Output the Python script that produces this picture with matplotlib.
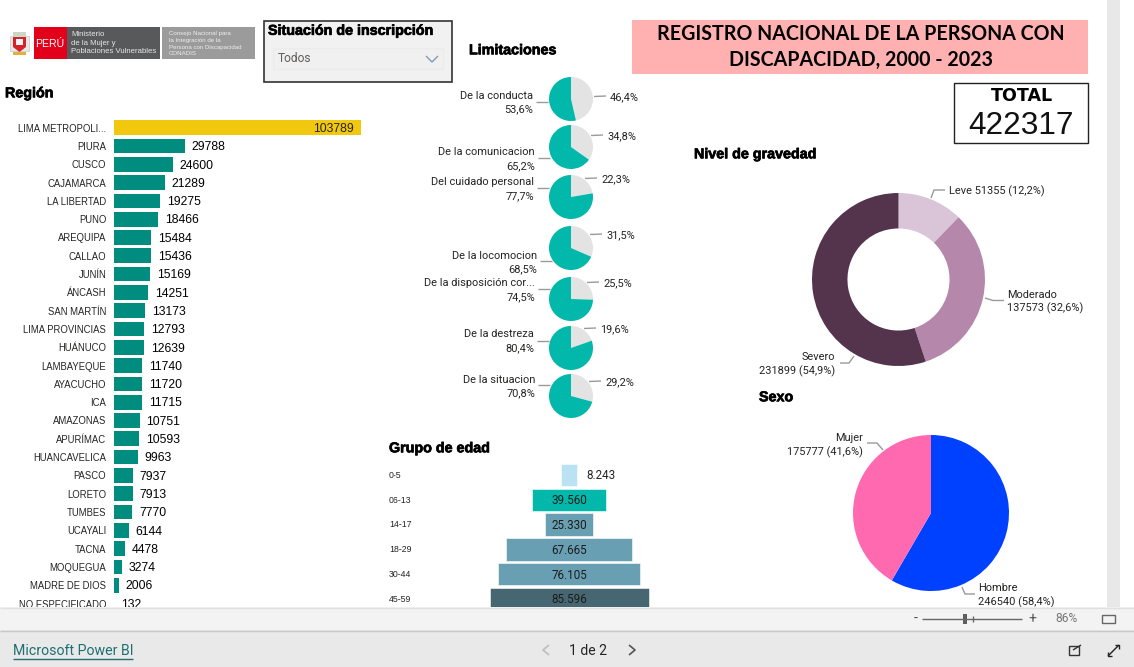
import matplotlib
matplotlib.use("Agg")
import matplotlib.pyplot as plt
import matplotlib.patheffects as pe
from matplotlib.patches import Rectangle, Polygon

W, H = 1134, 667
SANS = "Liberation Sans"
DIN = "Roboto"

regions = ["LIMA METROPOLI...", "PIURA", "CUSCO", "CAJAMARCA", "LA LIBERTAD", "PUNO", "AREQUIPA", "CALLAO",
           "JUNÍN", "ÁNCASH", "SAN MARTÍN", "LIMA PROVINCIAS", "HUÁNUCO", "LAMBAYEQUE", "AYACUCHO", "ICA",
           "AMAZONAS", "APURÍMAC", "HUANCAVELICA", "PASCO", "LORETO", "TUMBES", "UCAYALI", "TACNA",
           "MOQUEGUA", "MADRE DE DIOS", "NO ESPECIFICADO"]
region_values = [103789, 29788, 24600, 21289, 19275, 18466, 15484, 15436, 15169, 14251, 13173, 12793, 12639,
                 11740, 11720, 11715, 10751, 10593, 9963, 7937, 7913, 7770, 6144, 4478, 3274, 2006, 132]

limit_names = ["De la conducta", "De la comunicacion", "Del cuidado personal", "De la locomocion",
               "De la disposición cor...", "De la destreza", "De la situacion"]
limit_no = [46.4, 34.8, 22.3, 31.5, 25.5, 19.6, 29.2]
limit_si = [53.6, 65.2, 77.7, 68.5, 74.5, 80.4, 70.8]

age_groups = ["0-5", "06-13", "14-17", "18-29", "30-44", "45-59"]
age_values = [8243, 39560, 25330, 67665, 76105, 85596]
age_colors = ["#B9E3F2", "#01B8AA", "#689FB2", "#689FB2", "#689FB2", "#466672"]

severity_names = ["Leve", "Moderado", "Severo"]
severity_values = [51355, 137573, 231899]
severity_pct = [12.2, 32.6, 54.9]
severity_colors = ["#DAC4D8", "#B587AB", "#54344C"]

sex_names = ["Hombre", "Mujer"]
sex_values = [246540, 175777]
sex_pct = [58.4, 41.6]
sex_colors = ["#0040FF", "#FF69B0"]

total = 422317


def px_axes(x0, y0, x1, y1, **kw):
    return fig.add_axes([x0 / W, 1 - y1 / H, (x1 - x0) / W, (y1 - y0) / H], **kw)


def comma(v):
    return f"{v:.1f}".replace(".", ",")


fig = plt.figure(figsize=(W / 100, H / 100), dpi=100, facecolor="white")

base = px_axes(0, 0, W, H, zorder=1)
base.set_xlim(0, W)
base.set_ylim(H, 0)
base.axis("off")


def T(ax, x, y, s, px=11, ha="left", color="#252423", family=DIN, weight="normal", **kw):
    return ax.text(x, y + 0.8, s, fontsize=px * 0.72, ha=ha, va="center", color=color, family=family,
                   weight=weight, **kw)


def HEAD(x, y, s, px=14.3):
    t = T(base, x, y, s, px, color="black", family=SANS, weight="bold")
    t.set_path_effects([pe.withStroke(linewidth=0.5, foreground="black")])
    return t


def L(ax, xs, ys, color="#9a9a9a", lw=1.0):
    ax.plot(xs, ys, color=color, lw=lw, solid_capstyle="butt")


# logo
base.add_patch(Rectangle((34, 27), 33, 32, fc="#E2001A", ec="none"))
base.add_patch(Rectangle((67, 27), 93, 32, fc="#58595B", ec="none"))
base.add_patch(Rectangle((162, 27), 93, 32, fc="#9B9B9B", ec="none"))
T(base, 50, 43, "PERÚ", 10.5, ha="center", color="white", family=SANS)
for y, s in zip([34, 42.5, 51], ["Ministerio", "de la Mujer y", "Poblaciones Vulnerables"]):
    T(base, 71, y, s, 7.8, color="#E8E8E8", family=SANS)
for y, s in zip([33, 39.5, 46.5, 53], ["Consejo Nacional para", "la Integración de la",
                                       "Persona con Discapacidad", "CONADIS"]):
    T(base, 169, y, s, 6.1, color="#EEEEEE", family=SANS)
base.add_patch(Rectangle((10, 36), 19, 15, fc="#E8E8E8", ec="#C8C8C8", lw=0.5))
base.add_patch(Polygon([(13, 37), (26, 37), (26, 47), (19.5, 52), (13, 47)], fc="#D5232A", ec="none"))
base.add_patch(Rectangle((16, 39), 7, 6, fc="#F4F4F4", ec="none"))
base.add_patch(Rectangle((13, 32), 13, 4, fc="#C9D8C4", ec="none"))
base.add_patch(Rectangle((13, 52), 13, 3, fc="#E0B040", ec="none"))

# slicer
base.add_patch(Rectangle((263.5, 20.5), 188, 61, fc="#F1F1F1", ec="#333333", lw=1.2))
HEAD(268, 30, "Situación de inscripción")
base.add_patch(Rectangle((272.5, 48), 170, 21, fc="#F0F0F0", ec="#EBEBEB", lw=0.8))
T(base, 278, 58, "Todos", 12, color="#605E5C")
L(base, [426, 432, 438], [56, 62, 56], color="#7F9DB9", lw=1.0)

# section titles
HEAD(5, 92.5, "Región")
HEAD(469, 49.5, "Limitaciones")
HEAD(389, 447.5, "Grupo de edad")
HEAD(694, 153.5, "Nivel de gravedad")
HEAD(759, 396.5, "Sexo")

# title & total
base.add_patch(Rectangle((632, 20), 456, 54, fc="#FFB0B0", ec="none"))
T(base, 860.5, 33, "REGISTRO NACIONAL DE LA PERSONA CON", 19.6, ha="center", color="black", family="Lato", weight="bold")
T(base, 860.5, 59.5, "DISCAPACIDAD, 2000 - 2023", 19.6, ha="center", color="black", family="Lato", weight="bold")
base.add_patch(Rectangle((953.5, 82.5), 134, 60, fc="white", ec="#222222", lw=1.0))
T(base, 1022, 95, "TOTAL", 17.5, ha="center", color="black", family="DejaVu Sans", weight="bold")
T(base, 1021, 125, str(total), 31.5, ha="center", color="#111111", family=SANS)

# region bars
BAR_Y0, BAR_STEP = 127.7, 18.3
bar_ax = px_axes(114, 112, 361, 620, zorder=2)
bar_ax.patch.set_alpha(0)
bar_ax.set_xlim(0, region_values[0])
bar_ax.set_ylim((620 - BAR_Y0) / BAR_STEP, (112 - BAR_Y0) / BAR_STEP)
pos = list(range(len(regions)))
bar_colors = ["#F2C80F"] + ["#008C7E"] * (len(regions) - 1)
bar_ax.barh(pos, region_values, height=0.80, color=bar_colors, edgecolor="none")
bar_ax.set_yticks(pos, regions)
bar_ax.tick_params(axis="y", length=0, pad=5.5, labelsize=6.85, labelcolor="#252423")
for lab in bar_ax.get_yticklabels():
    lab.set_family(SANS)
bar_ax.xaxis.set_visible(False)
for s in bar_ax.spines.values():
    s.set_visible(False)
for i, v in enumerate(region_values):
    if i == 0:
        bar_ax.annotate(str(v), (v, i), xytext=(-5, -0.7), textcoords="offset points", ha="right", va="center",
                        fontsize=8.8, family=SANS, color="#252423")
    else:
        bar_ax.annotate(str(v), (v, i), xytext=(5, -0.9), textcoords="offset points", ha="left", va="center",
                        fontsize=8.8, family=SANS, color="black")

# limitation pies
pie_cy = [99, 147, 197, 248, 299, 348, 396]
left_y = [(95, 108), (151, 165), (181, 195), (255, 268), (282, 296), (333, 347), (379, 392)]
left_x = [533, 535, 534, 537, 535, 534, 535]
left_line = [101.5, 158, 188, 261, 289, 340.5, 385]
right_y = [96, 135, 178, 234, 282, 328, 381]
right_x = [610, 607, 601, 606, 603, 600, 605]
R = 22
for i, name in enumerate(limit_names):
    cy = pie_cy[i]
    a = px_axes(571 - R - 1, cy - R - 1, 571 + R + 1, cy + R + 1, zorder=2)
    a.pie([limit_no[i], limit_si[i]], colors=["#E3E3E3", "#01B8AA"], startangle=90, counterclock=False,
          radius=1.0)
    a.set_xlim(-(R + 1) / R, (R + 1) / R)
    a.set_ylim(-(R + 1) / R, (R + 1) / R)
    T(base, left_x[i], left_y[i][0], name, 11, ha="right")
    T(base, left_x[i], left_y[i][1], comma(limit_si[i]) + "%", 11, ha="right")
    T(base, right_x[i], right_y[i], comma(limit_no[i]) + "%", 11)
    L(base, [left_x[i] + 3, left_x[i] + 15], [left_line[i], left_line[i]])
    L(base, [right_x[i] - 16, right_x[i] - 4], [right_y[i] + 0.5, right_y[i]])

# age funnel
F_Y0, F_STEP = 475.0, 24.8
f_ax = px_axes(389, 462, 749, 620, zorder=2)
f_ax.patch.set_alpha(0)
half = 85596 / 159 * 180
f_ax.set_xlim(-half, half)
f_ax.set_ylim((620 - F_Y0) / F_STEP, (462 - F_Y0) / F_STEP)
apos = list(range(len(age_groups)))
f_ax.barh(apos, age_values, left=[-v / 2 for v in age_values], height=0.90, color=age_colors,
          edgecolor="white", linewidth=0.4)
f_ax.xaxis.set_visible(False)
f_ax.yaxis.set_visible(False)
for s in f_ax.spines.values():
    s.set_visible(False)
for i, (g, v) in enumerate(zip(age_groups, age_values)):
    lab = f"{v:,}".replace(",", ".")
    if i == 0:
        f_ax.annotate(lab, (v / 2, i), xytext=(7, -0.6), textcoords="offset points", ha="left", va="center",
                      fontsize=8.4, family=DIN, color="#252423")
    else:
        f_ax.annotate(lab, (0, i), xytext=(0, -0.6), textcoords="offset points", ha="center", va="center",
                      fontsize=8.4, family=DIN, color="#1c1c1c")
    T(base, 389, F_Y0 + F_STEP * i - 0.5, g, 8.8, family=SANS)

# severity donut
d_ax = px_axes(812, 193, 985, 366, zorder=2)
d_ax.pie(severity_values, colors=severity_colors, startangle=90, counterclock=False, radius=1.0,
         wedgeprops=dict(width=0.41))
d_ax.set_xlim(-1, 1)
d_ax.set_ylim(-1, 1)
L(base, [931, 934, 945], [198, 190, 190])
T(base, 949, 190, f"{severity_names[0]} {severity_values[0]} ({comma(severity_pct[0])}%)", 11)
L(base, [985, 993, 1004], [298, 300.5, 300.5])
T(base, 1007, 294, severity_names[1], 11)
T(base, 1007, 307, f"{severity_values[1]} ({comma(severity_pct[1])}%)", 11)
L(base, [840, 849, 854], [363, 363, 356])
T(base, 835, 356, severity_names[2], 11, ha="right")
T(base, 835, 370, f"{severity_values[2]} ({comma(severity_pct[2])}%)", 11, ha="right")

# sex pie
s_ax = px_axes(853, 435, 1009, 591, zorder=2)
s_ax.pie(sex_values, colors=sex_colors, startangle=90, counterclock=False, radius=1.0)
s_ax.set_xlim(-1, 1)
s_ax.set_ylim(-1, 1)
L(base, [867, 877, 883], [443, 443, 450])
T(base, 863, 437, sex_names[1], 11, ha="right")
T(base, 863, 451, f"{sex_values[1]} ({comma(sex_pct[1])}%)", 11, ha="right")
L(base, [962, 965, 975], [587, 594, 594])
T(base, 978, 587, sex_names[0], 11)
T(base, 978, 601, f"{sex_values[0]} ({comma(sex_pct[0])}%)", 11)

# chrome on top
top = px_axes(0, 0, W, H, zorder=5)
top.set_xlim(0, W)
top.set_ylim(H, 0)
top.axis("off")
top.patch.set_alpha(0)
top.add_patch(Rectangle((1107, 0), 13, 607, fc="#E8E8E8", ec="none"))
top.add_patch(Rectangle((0, 607), W, 23, fc="#F3F3F3", ec="none"))
top.add_patch(Rectangle((0, 630), W, 37, fc="#E9E9E9", ec="none"))
L(top, [0, W], [607.5, 607.5], color="#E0E0E0")
L(top, [0, W], [630.5, 630.5], color="#C8C8C8")
T(top, 13, 650.5, "Microsoft Power BI", 14.1, color="#1F6F73", family=DIN)
L(top, [13, 133], [658.5, 658.5], color="#1F6F73")
T(top, 588, 650, "1 de 2", 14, ha="center", color="#252423", family=DIN)
L(top, [549, 543, 549], [645, 650, 655], color="#BDBDBD", lw=1.2)
L(top, [629, 635, 629], [645, 650, 655], color="#555555", lw=1.2)
# zoom control
T(top, 916, 618, "-", 14, ha="center", color="#555555")
L(top, [922, 1022], [619, 619], color="#666666")
top.add_patch(Rectangle((963, 614), 4, 10, fc="#605E5C", ec="none"))
L(top, [972.5, 972.5], [616, 622], color="#666666")
T(top, 1032, 618, "+", 14, ha="center", color="#555555")
T(top, 1067, 618, "86%", 12, ha="center", color="#777777")
top.add_patch(Rectangle((1101.5, 615), 13, 8, fc="none", ec="#666666", lw=1.0))
# share / expand icons
top.add_patch(Rectangle((1069, 646), 10, 9, fc="none", ec="#333333", lw=1.0))
L(top, [1073, 1081], [650, 645], color="#333333")
L(top, [1108, 1119], [656, 645], color="#222222")
L(top, [1108, 1108, 1112], [652, 656, 656], color="#222222")
L(top, [1115, 1119, 1119], [645, 645, 649], color="#222222")

fig.savefig("out.png", dpi=100, facecolor="white")
